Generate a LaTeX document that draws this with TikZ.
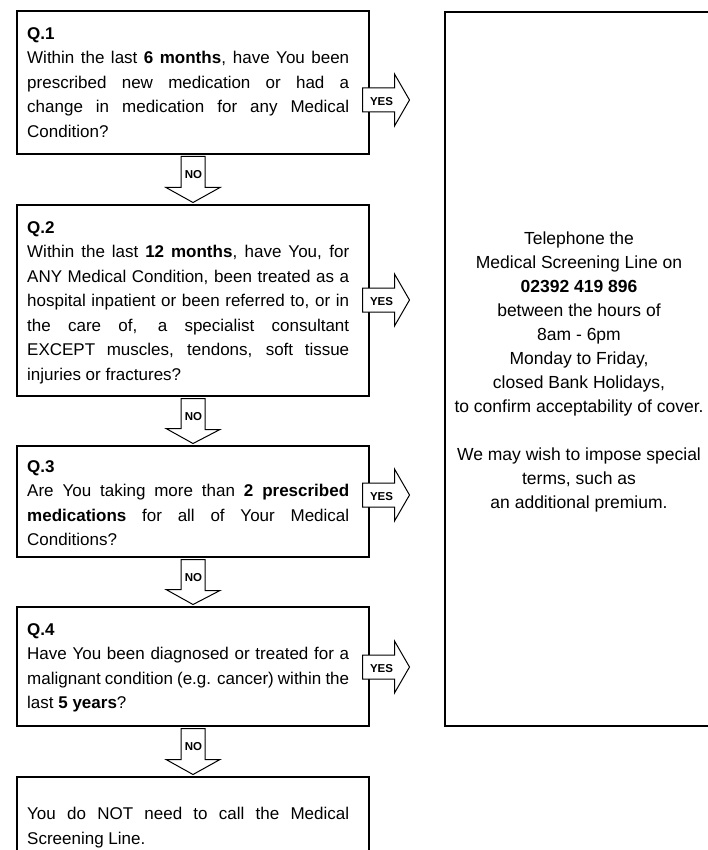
\documentclass[tikz,border=0pt]{standalone}
\usepackage{fontspec}
\setmainfont{Liberation Sans}
\usetikzlibrary{calc}
\tikzset{
  qbox/.style={draw=black, line width=1.3pt, fill=white, rectangle, inner sep=0pt, outer sep=0pt, anchor=north west, minimum width=352pt},
  qtext/.style={anchor=north west, inner sep=0pt, text width=322pt, align=justify, font=\fontsize{17}{24.5}\selectfont},
  infotext/.style={anchor=north, inner sep=0pt, align=center, font=\fontsize{17.5}{24}\selectfont},
  blockarr/.style={draw=black, line width=1pt, fill=white, line join=miter},
  yeslbl/.style={inner sep=0pt, font=\fontsize{11.5}{12}\selectfont\bfseries},
  nolbl/.style={inner sep=0pt, font=\fontsize{11.5}{12}\selectfont\bfseries}
}
% yes arrow: #1 box name, #2 offset of arrow axis below box top
\newcommand\yesarr[2]{%
  \coordinate (#1yes) at ($(#1.north east)+(-6.5,#2)$);
  \draw[blockarr] ($(#1yes)+(0,-12)$) -- ++(32,0) -- ++(0,-14) -- ++(15,26) -- ++(-15,26) -- ++(0,-14) -- ++(-32,0) -- cycle;
  \node[yeslbl] at ($(#1yes)+(19,1.5)$) {YES};%
}
\begin{document}
\begin{tikzpicture}[x=1pt,y=-1pt]
\useasboundingbox (0,0) rectangle (707,850);
% boxes
\node[qbox, minimum height=143pt] (q1) at (17,11) {};
\node[qbox, minimum height=191pt] (q2) at (17,205) {};
\node[qbox, minimum height=111pt] (q3) at (17,446) {};
\node[qbox, minimum height=119pt] (q4) at (17,607) {};
\node[qbox, minimum height=100pt] (q5) at (17,777) {};
\node[qbox, minimum width=268pt, minimum height=714pt] (info) at (445,12) {};
% texts
\node[qtext] (t1) at (27,27) {\textbf{Q.1}\linebreak Within the last \textbf{6 months}, have You been\linebreak prescribed new medication or had a\linebreak change in medication for any Medical\linebreak Condition?};
\node[qtext] (t2) at (27,221) {\textbf{Q.2}\linebreak Within the last \textbf{12 months}, have You, for\linebreak ANY Medical Condition, been treated as a\linebreak hospital inpatient or been referred to, or in\linebreak the care of, a specialist consultant\linebreak EXCEPT muscles, tendons, soft tissue\linebreak injuries or fractures?};
\node[qtext] (t3) at (27,460) {\textbf{Q.3}\linebreak Are You taking more than \textbf{2 prescribed}\linebreak \textbf{medications} for all of Your Medical\linebreak Conditions?};
\node[qtext] (t4) at (27,623) {\textbf{Q.4}\linebreak Have You been diagnosed or treated for a\linebreak malignant condition (e.g. cancer) within the\linebreak last \textbf{5 years}?};
\node[qtext] (t5) at (27,807) {You do NOT need to call the Medical\linebreak Screening Line.};
\node[infotext] (it) at (579,231.5) {Telephone the\\ Medical Screening Line on\\ \textbf{02392 419 896}\\ between the hours of\\ 8am - 6pm\\ Monday to Friday,\\ closed Bank Holidays,\\ to confirm acceptability of cover.\\[24pt] We may wish to impose special\\ terms, such as\\ an additional premium.};
% yes arrows
\yesarr{q1}{89}
\yesarr{q2}{95}
\yesarr{q3}{49}
\yesarr{q4}{60}
% no arrows
\foreach \a/\b in {q1/q2, q2/q3, q3/q4, q4/q5}{
  \draw[blockarr] ($(\a.south)+(-12,2.5)$) -- ++(24,0) -- ++(0,31) -- ++(15,0) -- ($(\b.north)+(0,-2.5)$) -- ++(-27,-15) -- ++(15,0) -- cycle;
  \node[nolbl] at ($(\a.south)+(0.5,21)$) {NO};
}
\end{tikzpicture}
\end{document}
